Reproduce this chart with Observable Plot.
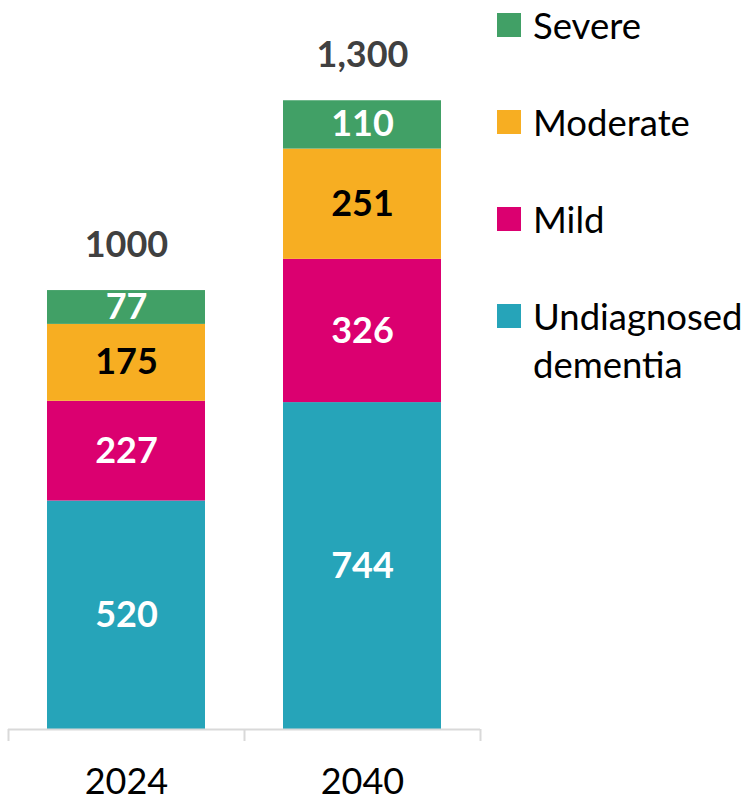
<!DOCTYPE html>
<html>
<head>
<meta charset="utf-8">
<script src="https://cdn.jsdelivr.net/npm/d3@7"></script>
<script src="https://cdn.jsdelivr.net/npm/@observablehq/plot@0.6"></script>
<style>
  html, body { margin: 0; padding: 0; background: #fff; }
  #wrap { position: relative; width: 756px; height: 802px; font-family: Lato, "Open Sans", sans-serif; }
  #legend { position: absolute; left: 497px; top: 1px; }
  .item { display: flex; align-items: flex-start; margin-bottom: 49px; }
  .sw { width: 24px; height: 24px; margin-top: 12px; margin-right: 12px; flex: none; }
  .lab { font-size: 36.5px; line-height: 48px; color: #000; white-space: nowrap; }
</style>
</head>
<body>
<div id="wrap"><div id="chart"></div><div id="legend"></div></div>
<script>
const years = ["2024", "2040"];
const categories = ["Undiagnosed dementia", "Mild", "Moderate", "Severe"];
const undiagnosed = [520, 744];
const mild = [227, 326];
const moderate = [175, 251];
const severe = [77, 110];
const totalLabels = ["1000", "1,300"];
const colors = ["#26A4B9", "#DB0070", "#F7AE22", "#41A066"];
const labelColors = ["#ffffff", "#ffffff", "#000000", "#ffffff"];
const legendOrder = ["Severe", "Moderate", "Mild", "Undiagnosed dementia"];
const legendText = ["Severe", "Moderate", "Mild", "Undiagnosed<br>dementia"];

const series = [undiagnosed, mild, moderate, severe];
const rows = [];
years.forEach((yr, i) => {
  categories.forEach((c, j) => {
    rows.push({year: yr, cat: c, value: series[j][i], fill: colors[j], tfill: labelColors[j]});
  });
});
const totals = years.map((yr, i) => ({year: yr, total: series.reduce((s, a) => s + a[i], 0), label: totalLabels[i]}));

const font = "Lato, 'Open Sans', sans-serif";

const chart = Plot.plot({
  width: 756,
  height: 802,
  marginLeft: 8,
  marginRight: 276,
  marginTop: 26,
  marginBottom: 73,
  style: {fontFamily: font, background: "#fff"},
  x: {domain: years, paddingInner: 0.33, paddingOuter: 0.165, axis: null},
  y: {domain: [0, 1600], axis: null},
  color: {type: "identity"},
  marks: [
    Plot.barY(rows, {x: "year", y: "value", fill: "fill"}),
    Plot.text(rows, Plot.stackY({x: "year", y: "value", text: d => String(d.value), fill: "tfill",
      fontSize: 36, fontWeight: "bold", lineAnchor: "middle"})),
    Plot.text(totals, {x: "year", y: "total", text: "label", fill: "#404040", fontSize: 36, fontWeight: "bold", dy: -45, lineAnchor: "middle"}),
    Plot.ruleY([0], {stroke: "#d9d9d9", strokeWidth: 2}),
    Plot.ruleX(years, {x: d => d, y1: 0, y2: 0, dx: -118, insetBottom: -12, stroke: "#d9d9d9", strokeWidth: 2}),
    Plot.ruleX(years.slice(-1), {x: d => d, y1: 0, y2: 0, dx: 118, insetBottom: -12, stroke: "#d9d9d9", strokeWidth: 2}),
    Plot.text(years, {x: d => d, frameAnchor: "bottom", dy: 53, text: d => d, fill: "#000", fontSize: 36, lineAnchor: "middle"})
  ]
});
document.getElementById("chart").appendChild(chart);

const legend = document.getElementById("legend");
legendOrder.forEach((c, k) => {
  const j = categories.indexOf(c);
  const item = document.createElement("div");
  item.className = "item";
  item.innerHTML = `<div class="sw" style="background:${colors[j]}"></div><div class="lab">${legendText[k]}</div>`;
  legend.appendChild(item);
});
</script>
</body>
</html>
